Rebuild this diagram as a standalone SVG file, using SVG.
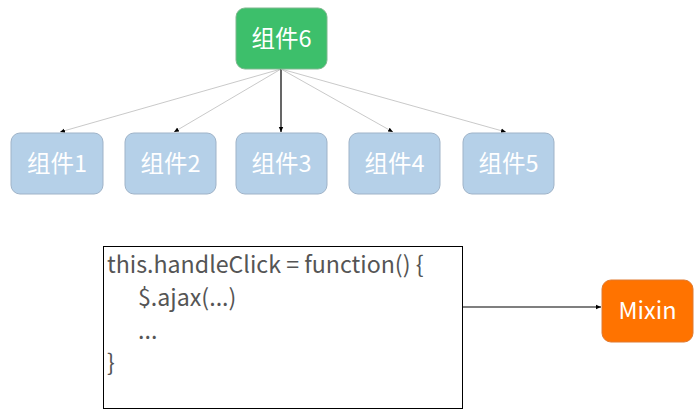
<svg xmlns="http://www.w3.org/2000/svg" width="700" height="420" viewBox="0 0 700 420">
<style>
.lbl{font-family:"Noto Sans CJK SC","Noto Sans",sans-serif;font-size:23.5px;fill:#fff;text-anchor:middle;}
.blue{fill:#b5d0e8;stroke:#9fb3c8;stroke-width:1;}
.code{font-family:"Noto Sans CJK SC","Noto Sans",sans-serif;font-size:23.2px;fill:#555;}
.thin{stroke:#bbb;stroke-width:0.8;fill:none;}
.dark{stroke:#000;stroke-width:1.2;fill:none;}
</style>
<defs>
<marker id="ah" markerWidth="6" markerHeight="6" refX="5" refY="3" orient="auto" markerUnits="userSpaceOnUse">
<path d="M0,0.8 L5,3 L0,5.2 z" fill="#000"/>
</marker>
</defs>
<g id="connectors">
<line class="thin" x1="281" y1="69" x2="60" y2="132" marker-end="url(#ah)"/>
<line class="thin" x1="281" y1="69" x2="174" y2="132" marker-end="url(#ah)"/>
<line class="dark" x1="281" y1="69" x2="281" y2="132" marker-end="url(#ah)"/>
<line class="thin" x1="281" y1="69" x2="393" y2="132" marker-end="url(#ah)"/>
<line class="thin" x1="281" y1="69" x2="506" y2="132" marker-end="url(#ah)"/>
<line class="dark" x1="463" y1="307" x2="601" y2="307" marker-end="url(#ah)"/>
</g>
<g id="node6">
<rect x="236" y="8" width="91" height="61" rx="9" fill="#3dbf6b" stroke="#7fb88f" stroke-width="1"/>
<text class="lbl" x="281.5" y="47">组件6</text>
</g>
<g id="node1">
<rect class="blue" x="11" y="133" width="92" height="61" rx="9"/>
<text class="lbl" x="57" y="172">组件1</text>
</g>
<g id="node2">
<rect class="blue" x="125" y="133" width="91" height="61" rx="9"/>
<text class="lbl" x="170.5" y="172">组件2</text>
</g>
<g id="node3">
<rect class="blue" x="236" y="133" width="91" height="61" rx="9"/>
<text class="lbl" x="281.5" y="172">组件3</text>
</g>
<g id="node4">
<rect class="blue" x="349" y="133" width="91" height="61" rx="9"/>
<text class="lbl" x="394.5" y="172">组件4</text>
</g>
<g id="node5">
<rect class="blue" x="463" y="133" width="91" height="61" rx="9"/>
<text class="lbl" x="508.5" y="172">组件5</text>
</g>
<g id="code">
<rect x="103.5" y="246.5" width="359" height="162" fill="#fff" stroke="#000" stroke-width="1"/>
<text class="code" x="107" y="273">this.handleClick = function() {</text>
<text class="code" x="138" y="306">$.ajax(...)</text>
<text class="code" x="138" y="339">...</text>
<text class="code" x="107" y="371">}</text>
</g>
<g id="mixin">
<rect x="602" y="280" width="91" height="62" rx="9" fill="#ff7300" stroke="#e07a30" stroke-width="1"/>
<text class="lbl" x="647.5" y="319">Mixin</text>
</g>
</svg>
